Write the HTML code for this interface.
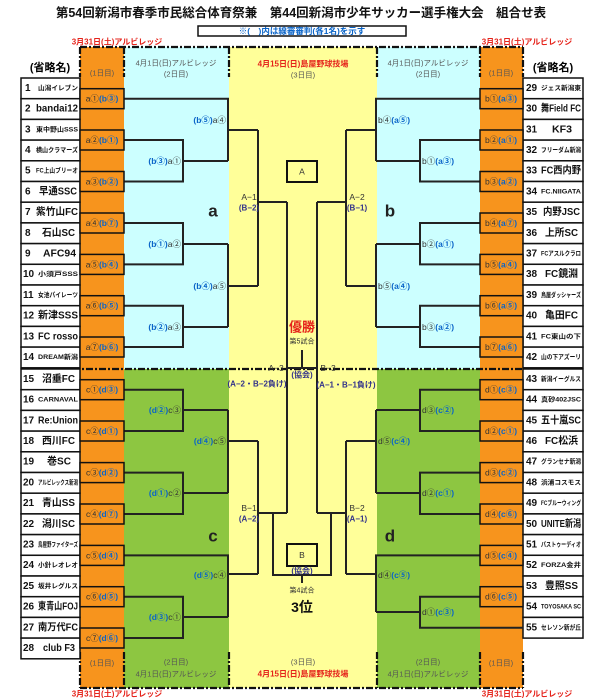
<!DOCTYPE html>
<html><head><meta charset="utf-8"><style>
html,body{margin:0;padding:0;background:#fff;}
svg{display:block;font-family:"Liberation Sans","Noto Sans CJK JP",sans-serif;}
.n{font-size:10px;font-weight:bold;fill:#111;dominant-baseline:central}
.s{font-size:6.5px;font-weight:bold;fill:#111;dominant-baseline:central}
.bx{font-size:8.5px;dominant-baseline:central;text-anchor:middle;fill:#333}
.r{font-size:8.5px;dominant-baseline:central;fill:#333}
.bl{fill:#0a64c8;font-weight:bold}
.h{font-size:7.5px;fill:#555;text-anchor:middle;dominant-baseline:central}
.red{font-size:8px;fill:#e5231b;font-weight:bold;text-anchor:middle;dominant-baseline:central}
.c{font-size:8.5px;fill:#333;text-anchor:middle;dominant-baseline:central}
.p{font-size:8px;fill:#33338a;font-weight:bold;text-anchor:middle;dominant-baseline:central}
.big{font-size:17px;font-weight:bold;fill:#222;text-anchor:middle;dominant-baseline:central}
</style></head><body>
<svg width="600" height="700" viewBox="0 0 600 700" xmlns="http://www.w3.org/2000/svg">
<rect x="80" y="47" width="44" height="641" fill="#f7941d"/>
<rect x="480" y="47" width="43" height="641" fill="#f7941d"/>
<rect x="124" y="47" width="105" height="322" fill="#ccffff"/>
<rect x="377" y="47" width="103" height="322" fill="#ccffff"/>
<rect x="124" y="369" width="105" height="319" fill="#8dc641"/>
<rect x="377" y="369" width="103" height="319" fill="#8dc641"/>
<rect x="229" y="47" width="148" height="641" fill="#ffff99"/>

<text x="301" y="13" font-size="12.5" font-weight="bold" text-anchor="middle" dominant-baseline="central" fill="#111">第54回新潟市春季市民総合体育祭兼　第44回新潟市少年サッカー選手権大会　組合せ表</text>
<rect x="198" y="26" width="208" height="10" fill="#fff" stroke="#111" stroke-width="1.5"/>
<text x="302" y="31" font-size="8.5" font-weight="bold" fill="#0a64c8" text-anchor="middle" dominant-baseline="central">※(　)内は線審審判(各1名)を示す</text>
<text x="117" y="42" class="red" font-weight="normal">3月31日(土)アルビレッジ</text>
<text x="527" y="42" class="red" font-weight="normal">3月31日(土)アルビレッジ</text>

<text x="50" y="68" font-size="11" font-weight="bold" text-anchor="middle" dominant-baseline="central">(省略名)</text>
<text x="553" y="68" font-size="11" font-weight="bold" text-anchor="middle" dominant-baseline="central">(省略名)</text>
<text x="102" y="73" class="h">(1日目)</text>
<text x="501" y="73" class="h">(1日目)</text>
<text x="176" y="63" class="h">4月1日(日)アルビレッジ</text>
<text x="176" y="74" class="h">(2日目)</text>
<text x="428" y="63" class="h">4月1日(日)アルビレッジ</text>
<text x="428" y="74" class="h">(2日目)</text>
<text x="303" y="64" class="red">4月15日(日)島屋野球技場</text>
<text x="303" y="75" class="h">(3日目)</text>
<text x="102" y="663" class="h">(1日目)</text>
<text x="501" y="663" class="h">(1日目)</text>
<text x="176" y="662" class="h">(2日目)</text>
<text x="176" y="674" class="h">4月1日(日)アルビレッジ</text>
<text x="428" y="662" class="h">(2日目)</text>
<text x="428" y="674" class="h">4月1日(日)アルビレッジ</text>
<text x="303" y="662" class="h">(3日目)</text>
<text x="303" y="674" class="red">4月15日(日)島屋野球技場</text>
<text x="117" y="694" class="red" font-weight="normal">3月31日(土)アルビレッジ</text>
<text x="527" y="694" class="red" font-weight="normal">3月31日(土)アルビレッジ</text>

<g stroke="#111" stroke-width="2.2" stroke-dasharray="7 2 2 2" fill="none">
<path d="M80 47H523"/>
<path d="M80 47V77M124 47V77M229 47V77M377 47V77M480 47V77M523 47V77"/>
<path d="M21 369H583"/>
<path d="M80 688H523"/>
<path d="M80 652V688M124 652V688M229 652V688M377 652V688M480 652V688M523 652V688"/>
</g>

<g fill="#fff" stroke="#111" stroke-width="1.5">
<rect x="21" y="78" width="59" height="20.7"/><rect x="21" y="98.7" width="59" height="20.7"/><rect x="21" y="119.4" width="59" height="20.7"/><rect x="21" y="140.1" width="59" height="20.7"/><rect x="21" y="160.8" width="59" height="20.7"/><rect x="21" y="181.5" width="59" height="20.7"/><rect x="21" y="202.2" width="59" height="20.7"/><rect x="21" y="222.9" width="59" height="20.7"/><rect x="21" y="243.6" width="59" height="20.7"/><rect x="21" y="264.3" width="59" height="20.7"/><rect x="21" y="285" width="59" height="20.7"/><rect x="21" y="305.7" width="59" height="20.7"/><rect x="21" y="326.4" width="59" height="20.7"/><rect x="21" y="347.1" width="59" height="20.7"/>
<rect x="21" y="369" width="59" height="20.7"/><rect x="21" y="389.7" width="59" height="20.7"/><rect x="21" y="410.4" width="59" height="20.7"/><rect x="21" y="431.1" width="59" height="20.7"/><rect x="21" y="451.8" width="59" height="20.7"/><rect x="21" y="472.5" width="59" height="20.7"/><rect x="21" y="493.2" width="59" height="20.7"/><rect x="21" y="513.9" width="59" height="20.7"/><rect x="21" y="534.6" width="59" height="20.7"/><rect x="21" y="555.3" width="59" height="20.7"/><rect x="21" y="576" width="59" height="20.7"/><rect x="21" y="596.7" width="59" height="20.7"/><rect x="21" y="617.4" width="59" height="20.7"/><rect x="21" y="638.1" width="59" height="20.7"/>
<rect x="523" y="78" width="60" height="20.7"/><rect x="523" y="98.7" width="60" height="20.7"/><rect x="523" y="119.4" width="60" height="20.7"/><rect x="523" y="140.1" width="60" height="20.7"/><rect x="523" y="160.8" width="60" height="20.7"/><rect x="523" y="181.5" width="60" height="20.7"/><rect x="523" y="202.2" width="60" height="20.7"/><rect x="523" y="222.9" width="60" height="20.7"/><rect x="523" y="243.6" width="60" height="20.7"/><rect x="523" y="264.3" width="60" height="20.7"/><rect x="523" y="285" width="60" height="20.7"/><rect x="523" y="305.7" width="60" height="20.7"/><rect x="523" y="326.4" width="60" height="20.7"/><rect x="523" y="347.1" width="60" height="20.7"/>
<rect x="523" y="369" width="60" height="20.7"/><rect x="523" y="389.7" width="60" height="20.7"/><rect x="523" y="410.4" width="60" height="20.7"/><rect x="523" y="431.1" width="60" height="20.7"/><rect x="523" y="451.8" width="60" height="20.7"/><rect x="523" y="472.5" width="60" height="20.7"/><rect x="523" y="493.2" width="60" height="20.7"/><rect x="523" y="513.9" width="60" height="20.7"/><rect x="523" y="534.6" width="60" height="20.7"/><rect x="523" y="555.3" width="60" height="20.7"/><rect x="523" y="576" width="60" height="20.7"/><rect x="523" y="596.7" width="60" height="20.7"/><rect x="523" y="617.4" width="60" height="20.7"/>
</g>

<g>
<text class="n" x="25" y="88.4">1</text><text class="s" x="38" y="88.4" textLength="40" lengthAdjust="spacingAndGlyphs">山潟イレブン</text>
<text class="n" x="25" y="109">2</text><text class="n" x="36" y="109" textLength="42" lengthAdjust="spacingAndGlyphs">bandai12</text>
<text class="n" x="25" y="129.8">3</text><text class="s" x="36" y="129.8" textLength="42" lengthAdjust="spacingAndGlyphs">東中野山SSS</text>
<text class="n" x="25" y="150.5">4</text><text class="s" x="36" y="150.5" textLength="42" lengthAdjust="spacingAndGlyphs">横山クラマーズ</text>
<text class="n" x="25" y="171.2">5</text><text class="s" x="36" y="171.2" textLength="42" lengthAdjust="spacingAndGlyphs">FC上山ブリーオ</text>
<text class="n" x="25" y="191.9">6</text><text class="n" x="39" y="191.9" textLength="38" lengthAdjust="spacingAndGlyphs">早通SSC</text>
<text class="n" x="25" y="212.6">7</text><text class="n" x="36" y="212.6" textLength="42" lengthAdjust="spacingAndGlyphs">紫竹山FC</text>
<text class="n" x="25" y="233.3">8</text><text class="n" x="42" y="233.3" textLength="33" lengthAdjust="spacingAndGlyphs">石山SC</text>
<text class="n" x="25" y="254">9</text><text class="n" x="43" y="254" textLength="33" lengthAdjust="spacingAndGlyphs">AFC94</text>
<text class="n" x="23" y="274.7">10</text><text class="s" x="38" y="274.7" textLength="40" lengthAdjust="spacingAndGlyphs">小須戸SSS</text>
<text class="n" x="23" y="295.4">11</text><text class="s" x="38" y="295.4" textLength="40" lengthAdjust="spacingAndGlyphs">女池パイレーツ</text>
<text class="n" x="23" y="316">12</text><text class="n" x="38" y="316" textLength="40" lengthAdjust="spacingAndGlyphs">新津SSS</text>
<text class="n" x="23" y="336.8">13</text><text class="n" x="38" y="336.8" textLength="40" lengthAdjust="spacingAndGlyphs">FC rosso</text>
<text class="n" x="23" y="357.5">14</text><text class="s" x="38" y="357.5" textLength="40" lengthAdjust="spacingAndGlyphs">DREAM新潟</text>
<text class="n" x="23" y="379.4">15</text><text class="n" x="42" y="379.4" textLength="33" lengthAdjust="spacingAndGlyphs">沼垂FC</text>
<text class="n" x="23" y="400">16</text><text class="s" x="38" y="400" textLength="40" lengthAdjust="spacingAndGlyphs">CARNAVAL</text>
<text class="n" x="23" y="420.8">17</text><text class="n" x="38" y="420.8" textLength="40" lengthAdjust="spacingAndGlyphs">Re:Union</text>
<text class="n" x="23" y="441.5">18</text><text class="n" x="42" y="441.5" textLength="33" lengthAdjust="spacingAndGlyphs">西川FC</text>
<text class="n" x="23" y="462.2">19</text><text class="n" x="47" y="462.2" textLength="24" lengthAdjust="spacingAndGlyphs">巻SC</text>
<text class="n" x="23" y="482.9">20</text><text class="s" x="38" y="482.9" textLength="40" lengthAdjust="spacingAndGlyphs">アルビレックス新潟</text>
<text class="n" x="23" y="503.6">21</text><text class="n" x="42" y="503.6" textLength="33" lengthAdjust="spacingAndGlyphs">青山SS</text>
<text class="n" x="23" y="524.3">22</text><text class="n" x="42" y="524.3" textLength="33" lengthAdjust="spacingAndGlyphs">潟川SC</text>
<text class="n" x="23" y="545">23</text><text class="s" x="38" y="545" textLength="40" lengthAdjust="spacingAndGlyphs">鳥屋野ファイターズ</text>
<text class="n" x="23" y="565.7">24</text><text class="s" x="38" y="565.7" textLength="40" lengthAdjust="spacingAndGlyphs">小針レオレオ</text>
<text class="n" x="23" y="586.4">25</text><text class="s" x="38" y="586.4" textLength="40" lengthAdjust="spacingAndGlyphs">坂井レグルス</text>
<text class="n" x="23" y="607">26</text><text class="n" x="38" y="607" textLength="40" lengthAdjust="spacingAndGlyphs">東青山FOJ</text>
<text class="n" x="23" y="627.8">27</text><text class="n" x="38" y="627.8" textLength="40" lengthAdjust="spacingAndGlyphs">南万代FC</text>
<text class="n" x="23" y="648.5">28</text><text class="n" x="43" y="648.5" textLength="32" lengthAdjust="spacingAndGlyphs">club F3</text>
</g>
<g>
<text class="n" x="526" y="88.4">29</text><text class="s" x="541" y="88.4" textLength="40" lengthAdjust="spacingAndGlyphs">ジェス新潟東</text>
<text class="n" x="526" y="109">30</text><text class="n" x="541" y="109" textLength="40" lengthAdjust="spacingAndGlyphs">舞Field FC</text>
<text class="n" x="526" y="129.8">31</text><text class="n" x="552" y="129.8" textLength="20" lengthAdjust="spacingAndGlyphs">KF3</text>
<text class="n" x="526" y="150.5">32</text><text class="s" x="541" y="150.5" textLength="40" lengthAdjust="spacingAndGlyphs">フリーダム新潟</text>
<text class="n" x="526" y="171.2">33</text><text class="n" x="541" y="171.2" textLength="40" lengthAdjust="spacingAndGlyphs">FC西内野</text>
<text class="n" x="526" y="191.9">34</text><text class="s" x="541" y="191.9" textLength="40" lengthAdjust="spacingAndGlyphs">FC.NIIGATA</text>
<text class="n" x="526" y="212.6">35</text><text class="n" x="543" y="212.6" textLength="37" lengthAdjust="spacingAndGlyphs">内野JSC</text>
<text class="n" x="526" y="233.3">36</text><text class="n" x="545" y="233.3" textLength="33" lengthAdjust="spacingAndGlyphs">上所SC</text>
<text class="n" x="526" y="254">37</text><text class="s" x="541" y="254" textLength="40" lengthAdjust="spacingAndGlyphs">FCアスルクラロ</text>
<text class="n" x="526" y="274.7">38</text><text class="n" x="545" y="274.7" textLength="33" lengthAdjust="spacingAndGlyphs">FC鏡淵</text>
<text class="n" x="526" y="295.4">39</text><text class="s" x="541" y="295.4" textLength="40" lengthAdjust="spacingAndGlyphs">鳥屋ダッシャーズ</text>
<text class="n" x="526" y="316">40</text><text class="n" x="545" y="316" textLength="33" lengthAdjust="spacingAndGlyphs">亀田FC</text>
<text class="n" x="526" y="336.8">41</text><text class="s" x="541" y="336.8" textLength="40" lengthAdjust="spacingAndGlyphs">FC東山の下</text>
<text class="n" x="526" y="357.5">42</text><text class="s" x="541" y="357.5" textLength="40" lengthAdjust="spacingAndGlyphs">山の下アズーリ</text>
<text class="n" x="526" y="379.4">43</text><text class="s" x="541" y="379.4" textLength="40" lengthAdjust="spacingAndGlyphs">新潟イーグルス</text>
<text class="n" x="526" y="400">44</text><text class="s" x="541" y="400" textLength="40" lengthAdjust="spacingAndGlyphs">真砂402JSC</text>
<text class="n" x="526" y="420.8">45</text><text class="n" x="541" y="420.8" textLength="40" lengthAdjust="spacingAndGlyphs">五十嵐SC</text>
<text class="n" x="526" y="441.5">46</text><text class="n" x="545" y="441.5" textLength="33" lengthAdjust="spacingAndGlyphs">FC松浜</text>
<text class="n" x="526" y="462.2">47</text><text class="s" x="541" y="462.2" textLength="40" lengthAdjust="spacingAndGlyphs">グランセナ新潟</text>
<text class="n" x="526" y="482.9">48</text><text class="s" x="541" y="482.9" textLength="40" lengthAdjust="spacingAndGlyphs">浜浦コスモス</text>
<text class="n" x="526" y="503.6">49</text><text class="s" x="541" y="503.6" textLength="40" lengthAdjust="spacingAndGlyphs">FCブルーウィング</text>
<text class="n" x="526" y="524.3">50</text><text class="n" x="541" y="524.3" textLength="40" lengthAdjust="spacingAndGlyphs">UNITE新潟</text>
<text class="n" x="526" y="545">51</text><text class="s" x="541" y="545" textLength="40" lengthAdjust="spacingAndGlyphs">パストゥーディオ</text>
<text class="n" x="526" y="565.7">52</text><text class="s" x="541" y="565.7" textLength="40" lengthAdjust="spacingAndGlyphs">FORZA金井</text>
<text class="n" x="526" y="586.4">53</text><text class="n" x="545" y="586.4" textLength="33" lengthAdjust="spacingAndGlyphs">豊照SS</text>
<text class="n" x="526" y="607">54</text><text class="s" x="541" y="607" textLength="40" lengthAdjust="spacingAndGlyphs">TOYOSAKA SC</text>
<text class="n" x="526" y="627.8">55</text><text class="s" x="541" y="627.8" textLength="40" lengthAdjust="spacingAndGlyphs">セレソン新が丘</text>
</g>

<g stroke="#222" stroke-width="2" fill="none">
<path d="M124 98.7H228V161M124 140H183V181.5H124M183 161H228M228 130H258"/>
<path d="M124 223H183V264.4H124M183 244H228M124 305.7H183V347H124M183 327H228M228 244V327M228 286H258"/>
<path d="M258 130V286M258 202H287"/>
<path d="M480 98.7H376V161M480 140H420V181.5H480M420 161H376M376 130H346"/>
<path d="M480 223H420V264.4H480M420 244H376M480 305.7H420V347H480M420 327H376M376 244V327M376 286H346"/>
<path d="M346 130V286M346 202H317"/>
<path d="M124 389.7H183V431H124M183 410H228M124 472.6H183V514H124M183 493H228M228 410V493M228 441H258"/>
<path d="M124 555.4H228V617M124 596.7H183V638H124M183 617H228M228 574H258"/>
<path d="M258 441V574M258 513H287"/>
<path d="M480 389.7H420V431H480M420 410H376M480 472.6H420V514H480M420 493H376M376 410V493M376 441H346"/>
<path d="M480 555.4H376V612M480 596.7H420V627.8H523M420 612H376M376 574H346"/>
<path d="M346 441V574M346 513H317"/>
<path d="M287 202V513M317 202V513M273 513V575H331V513M302 575V583M287 368H317M302 350V368"/>
</g>
<rect x="287" y="161" width="30" height="21" fill="#ffff99" stroke="#111" stroke-width="2"/>
<text x="302" y="171.5" class="c" font-size="10">A</text>
<rect x="287" y="544" width="30" height="22" fill="#ffff99" stroke="#111" stroke-width="2"/>
<text x="302" y="555" class="c" font-size="10">B</text>

<g fill="#f7941d" stroke="#111" stroke-width="1.5">
<rect x="80" y="88.7" width="44" height="20"/><rect x="80" y="130" width="44" height="20"/><rect x="80" y="171.5" width="44" height="20"/><rect x="80" y="213" width="44" height="20"/><rect x="80" y="254.4" width="44" height="20"/><rect x="80" y="295.7" width="44" height="20"/><rect x="80" y="337" width="44" height="20"/>
<rect x="80" y="379.7" width="44" height="20"/><rect x="80" y="421" width="44" height="20"/><rect x="80" y="462.6" width="44" height="20"/><rect x="80" y="504" width="44" height="20"/><rect x="80" y="545.4" width="44" height="20"/><rect x="80" y="586.7" width="44" height="20"/><rect x="80" y="628" width="44" height="20"/>
<rect x="480" y="88.7" width="43" height="20"/><rect x="480" y="130" width="43" height="20"/><rect x="480" y="171.5" width="43" height="20"/><rect x="480" y="213" width="43" height="20"/><rect x="480" y="254.4" width="43" height="20"/><rect x="480" y="295.7" width="43" height="20"/><rect x="480" y="337" width="43" height="20"/>
<rect x="480" y="379.7" width="43" height="20"/><rect x="480" y="421" width="43" height="20"/><rect x="480" y="462.6" width="43" height="20"/><rect x="480" y="504" width="43" height="20"/><rect x="480" y="545.4" width="43" height="20"/><rect x="480" y="586.7" width="43" height="20"/>
</g>
<g class="bx">
<text class="bx" x="102" y="98.7">a①<tspan class="bl">(b③)</tspan></text>
<text class="bx" x="102" y="140">a②<tspan class="bl">(b①)</tspan></text>
<text class="bx" x="102" y="181.5">a③<tspan class="bl">(b②)</tspan></text>
<text class="bx" x="102" y="223">a④<tspan class="bl">(b⑦)</tspan></text>
<text class="bx" x="102" y="264.4">a⑤<tspan class="bl">(b④)</tspan></text>
<text class="bx" x="102" y="305.7">a⑥<tspan class="bl">(b⑤)</tspan></text>
<text class="bx" x="102" y="347">a⑦<tspan class="bl">(b⑥)</tspan></text>
<text class="bx" x="102" y="389.7">c①<tspan class="bl">(d③)</tspan></text>
<text class="bx" x="102" y="431">c②<tspan class="bl">(d①)</tspan></text>
<text class="bx" x="102" y="472.6">c③<tspan class="bl">(d②)</tspan></text>
<text class="bx" x="102" y="514">c④<tspan class="bl">(d⑦)</tspan></text>
<text class="bx" x="102" y="555.4">c⑤<tspan class="bl">(d④)</tspan></text>
<text class="bx" x="102" y="596.7">c⑥<tspan class="bl">(d⑤)</tspan></text>
<text class="bx" x="102" y="638">c⑦<tspan class="bl">(d⑥)</tspan></text>
<text class="bx" x="501" y="98.7">b①<tspan class="bl">(a③)</tspan></text>
<text class="bx" x="501" y="140">b②<tspan class="bl">(a①)</tspan></text>
<text class="bx" x="501" y="181.5">b③<tspan class="bl">(a②)</tspan></text>
<text class="bx" x="501" y="223">b④<tspan class="bl">(a⑦)</tspan></text>
<text class="bx" x="501" y="264.4">b⑤<tspan class="bl">(a④)</tspan></text>
<text class="bx" x="501" y="305.7">b⑥<tspan class="bl">(a⑤)</tspan></text>
<text class="bx" x="501" y="347">b⑦<tspan class="bl">(a⑥)</tspan></text>
<text class="bx" x="501" y="389.7">d①<tspan class="bl">(c③)</tspan></text>
<text class="bx" x="501" y="431">d②<tspan class="bl">(c①)</tspan></text>
<text class="bx" x="501" y="472.6">d③<tspan class="bl">(c②)</tspan></text>
<text class="bx" x="501" y="514">d④<tspan class="bl">(c⑥)</tspan></text>
<text class="bx" x="501" y="555.4">d⑤<tspan class="bl">(c④)</tspan></text>
<text class="bx" x="501" y="596.7">d⑥<tspan class="bl">(c⑤)</tspan></text>
</g>

<g text-anchor="end">
<text class="r" x="181" y="161"><tspan class="bl">(b③)</tspan>a①</text>
<text class="r" x="226" y="120"><tspan class="bl">(b⑤)</tspan>a④</text>
<text class="r" x="181" y="244"><tspan class="bl">(b①)</tspan>a②</text>
<text class="r" x="226" y="286"><tspan class="bl">(b④)</tspan>a⑤</text>
<text class="r" x="181" y="327"><tspan class="bl">(b②)</tspan>a③</text>
<text class="r" x="181" y="410"><tspan class="bl">(d②)</tspan>c③</text>
<text class="r" x="226" y="441"><tspan class="bl">(d④)</tspan>c⑤</text>
<text class="r" x="181" y="493"><tspan class="bl">(d①)</tspan>c②</text>
<text class="r" x="226" y="575"><tspan class="bl">(d⑤)</tspan>c④</text>
<text class="r" x="181" y="617"><tspan class="bl">(d③)</tspan>c①</text>
</g>
<g>
<text class="r" x="378" y="120">b④<tspan class="bl">(a⑤)</tspan></text>
<text class="r" x="422" y="161">b①<tspan class="bl">(a③)</tspan></text>
<text class="r" x="422" y="244">b②<tspan class="bl">(a①)</tspan></text>
<text class="r" x="378" y="286">b⑤<tspan class="bl">(a④)</tspan></text>
<text class="r" x="422" y="327">b③<tspan class="bl">(a②)</tspan></text>
<text class="r" x="422" y="410">d③<tspan class="bl">(c②)</tspan></text>
<text class="r" x="378" y="441">d⑤<tspan class="bl">(c④)</tspan></text>
<text class="r" x="422" y="493">d②<tspan class="bl">(c①)</tspan></text>
<text class="r" x="378" y="575">d④<tspan class="bl">(c⑤)</tspan></text>
<text class="r" x="422" y="612">d①<tspan class="bl">(c③)</tspan></text>
</g>

<text class="big" x="213" y="211">a</text>
<text class="big" x="390" y="211">b</text>
<text class="big" x="213" y="536">c</text>
<text class="big" x="390" y="536">d</text>

<text class="c" x="249" y="197">A−1</text><text class="p" x="249" y="208">(B−2)</text>
<text class="c" x="357" y="197">A−2</text><text class="p" x="357" y="208">(B−1)</text>
<text class="c" x="249" y="508">B−1</text><text class="p" x="249" y="519">(A−2)</text>
<text class="c" x="357" y="508">B−2</text><text class="p" x="357" y="519">(A−1)</text>
<text x="302" y="327" font-size="13" font-weight="bold" fill="#e5231b" text-anchor="middle" dominant-baseline="central">優勝</text>
<text x="302" y="342" font-size="7" fill="#333" text-anchor="middle" dominant-baseline="central">第5試合</text>
<text class="c" x="276" y="368">A−3</text>
<text class="c" x="328" y="368">B−3</text>
<text class="p" x="302" y="375">(協会)</text>
<text class="p" x="257" y="384" font-size="7.5">(A−2・B−2負け)</text>
<text class="p" x="346" y="385" font-size="7.5">(A−1・B−1負け)</text>
<text class="p" x="302" y="571">(協会)</text>
<text x="302" y="591" font-size="7" fill="#333" text-anchor="middle" dominant-baseline="central">第4試合</text>
<text x="302" y="607" font-size="14" font-weight="bold" fill="#111" text-anchor="middle" dominant-baseline="central">3位</text>
</svg>
</body></html>
